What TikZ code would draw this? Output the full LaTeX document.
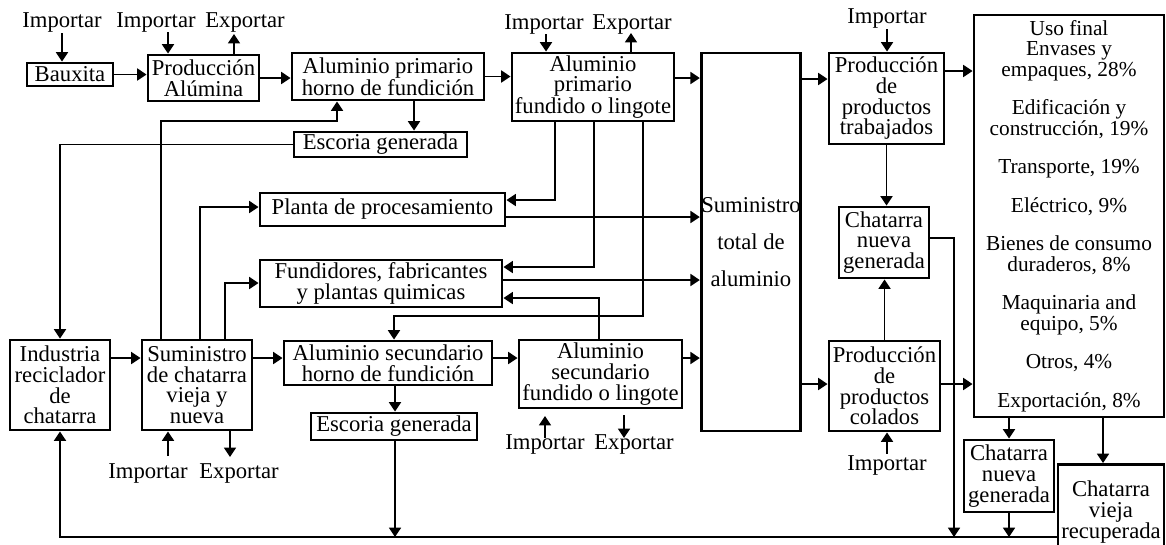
\documentclass[tikz,border=0pt]{standalone}
\usepackage{fontspec}
\setmainfont{Liberation Serif}
\usetikzlibrary{arrows.meta}
\begin{document}
\begin{tikzpicture}[x=0.75pt,y=-0.75pt,
  every node/.style={font=\fontsize{17}{15.5}\selectfont},
  box/.style={draw, line width=2.2pt, align=center, inner sep=0pt},
  sz/.style 2 args={minimum width=#1*0.75pt, minimum height=#2*0.75pt},
  lbl/.style={inner sep=1pt},
  ln/.style={line width=1.2pt},
  arr/.style={ln, -{Triangle[length=7pt,width=9pt]}}]
\useasboundingbox (0,0) rectangle (1166,544);
\clip (0,0) rectangle (1166,544);

% boxes
\node[box, sz={86}{23}] (baux) at (70,74.5) {Bauxita};
\node[box, sz={111}{46}] (alum) at (203.5,78) {Producción\\Alúmina};
\node[box, sz={192}{47}] (hpri) at (388,76.5) {Aluminio primario\\horno de fundición};
\node[box, sz={173}{25}] (esc1) at (380.5,144.5) {Escoria generada};
\node[box, sz={162}{68}] (fpri) at (593,87) {Aluminio\\primario\\fundido o lingote};
\node[box, sz={96}{378}, font=\fontsize{17}{27.75}\selectfont] (stot) at (751,242) {Suministro\\total de\\aluminio};
\node[box, sz={115}{91}] (trab) at (886.5,98.5) {Producción\\de\\productos\\trabajados};
\node[box, sz={190}{402}, font=\fontsize{16}{15.4}\selectfont] (uso) at (1069,216)
  {Uso final\\Envases y\\empaques, 28\%\\[13.5pt]Edificación y\\construcción, 19\%\\[13.5pt]Transporte, 19\%\\[13.5pt]Eléctrico, 9\%\\[13.5pt]Bienes de consumo\\duraderos, 8\%\\[13.5pt]Maquinaria and\\equipo, 5\%\\[13.5pt]Otros, 4\%\\[13.5pt]Exportación, 8\%};
\node[box, sz={90}{71}] (cnm) at (884,242.5) {Chatarra\\nueva\\generada};
\node[box, sz={111}{90}] (col) at (884.5,386) {Producción\\de\\productos\\colados};
\node[box, sz={90}{72}] (cnb) at (1009,476) {Chatarra\\nueva\\generada};
\node[box, sz={106}{95}] (cvr) at (1111,512) {Chatarra\\vieja\\recuperada};
\node[box, sz={245}{33}] (plan) at (382.5,209.5) {Planta de procesamiento};
\node[box, sz={242}{47}] (fund) at (381,283.5) {Fundidores, fabricantes\\y plantas quimicas};
\node[box, sz={100}{90}] (ind) at (60,385) {Industria\\reciclador\\de\\chatarra};
\node[box, sz={110}{90}] (schat) at (197,385) {Suministro\\de chatarra\\vieja y\\nueva};
\node[box, sz={208}{44}] (hsec) at (388,363) {Aluminio secundario\\horno de fundición};
\node[box, sz={166}{27}] (esc2) at (394,426.5) {Escoria generada};
\node[box, sz={163}{68}] (fsec) at (600.5,374) {Aluminio\\secundario\\fundido o lingote};

% labels
\node[lbl] (i1) at (62,22) {Importar};
\node[lbl] (i2) at (156,22) {Importar};
\node[lbl] (e2) at (245,22) {Exportar};
\node[lbl] (i3) at (544,24) {Importar};
\node[lbl] (e3) at (632,24) {Exportar};
\node[lbl] (i4) at (887,18) {Importar};
\node[lbl] (i5) at (148,473) {Importar};
\node[lbl] (e5) at (239,473) {Exportar};
\node[lbl] (i6) at (545,444) {Importar};
\node[lbl] (e6) at (634,444) {Exportar};
\node[lbl] (i7) at (887,465) {Importar};

% free ends and junctions
\coordinate (a2) at (168,32);
\coordinate (a3) at (234,34);
\coordinate (a4) at (546,34);
\coordinate (a5) at (631,33);
\coordinate (a6) at (168,456);
\coordinate (a7) at (230,457);
\coordinate (a8) at (545,438);
\coordinate (a9) at (624,438);
\coordinate (j1) at (954,537);
\coordinate (j2) at (1009,537);
\coordinate (j3) at (395,537);

% top row
\draw[arr] (i1.south) -- (i1.south |- baux.north);
\draw[arr] (a2) -- (a2 |- alum.north);
\draw[arr] (a3 |- alum.north) -- (a3);
\draw[arr] (baux.east) -- (baux.east -| alum.west);
\draw[arr] (alum.east) -- (alum.east -| hpri.west);
\draw[arr] (hpri.east) -- (hpri.east -| fpri.west);
\draw[arr] (a4) -- (a4 |- fpri.north);
\draw[arr] (a5 |- fpri.north) -- (a5);
\draw[arr] (fpri.east |- 0,78) -- (stot.west |- 0,78);
\draw[arr] (stot.east |- 0,79) -- (trab.west |- 0,79);
\draw[arr] (trab.east |- 0,71) -- (uso.west |- 0,71);
\draw[arr] (i4.south) -- (i4.south |- trab.north);
\draw[arr] (hpri.south -| 414,0) -- (esc1.north -| 414,0);
\draw[arr] (esc1.west) -| (ind.north);

% from scrap supply upward
\draw[arr] (schat.north -| 161,0) |- (337,121) -- (337,121 |- hpri.south);
\draw[arr] (schat.north -| 200,0) |- (plan.west |- 0,207);
\draw[arr] (schat.north -| 225,0) |- (fund.west |- 0,283);

% from primary ingot downward
\draw[arr] (fpri.south -| 555,0) |- (plan.east |- 0,200);
\draw[arr] (fpri.south -| 594,0) |- (fund.east |- 0,267);
\draw[arr] (fpri.south -| 643,0) |- (394,316) -- (394,316 |- hsec.north);
\draw[arr] (fsec.north -| 599,0) |- (fund.east |- 0,298);
\draw[arr] (plan.east |- 0,217) -- (stot.west |- 0,217);
\draw[arr] (fund.east |- 0,280) -- (stot.west |- 0,280);

% bottom row
\draw[arr] (ind.east |- 0,358) -- (schat.west |- 0,358);
\draw[arr] (schat.east |- 0,358) -- (hsec.west |- 0,358);
\draw[arr] (hsec.east |- 0,358) -- (fsec.west |- 0,358);
\draw[arr] (fsec.east |- 0,358) -- (stot.west |- 0,358);
\draw[arr] (hsec.south -| 395,0) -- (esc2.north -| 395,0);
\draw[arr] (esc2.south -| 395,0) -- (j3);
\draw[arr] (a6) -- (a6 |- schat.south);
\draw[arr] (a7 |- schat.south) -- (a7);
\draw[arr] (a8) -- ++(0,-22);
\draw[arr] ([yshift=17pt]a9) -- (a9);

% right side
\draw[arr] (stot.east |- 0,384) -- (col.west |- 0,384);
\draw[arr] (col.east |- 0,384) -- (uso.west |- 0,384);
\draw[arr] (i7.north) -- (i7.north |- col.south);
\draw[arr] (trab.south) -- (trab.south |- cnm.north);
\draw[arr] (col.north) -- (col.north |- cnm.south);
\draw[arr] (cnm.east |- 0,238) -| (j1);
\draw[arr] (uso.south -| cnb.north) -- (cnb.north);
\draw[arr] (uso.south -| 1103,0) -- (cvr.north -| 1103,0);
\draw[arr] (cnb.south) -- (j2);
\draw[arr] (cvr.west |- j1) -- (ind.south |- j1) -- (ind.south);
\end{tikzpicture}
\end{document}
